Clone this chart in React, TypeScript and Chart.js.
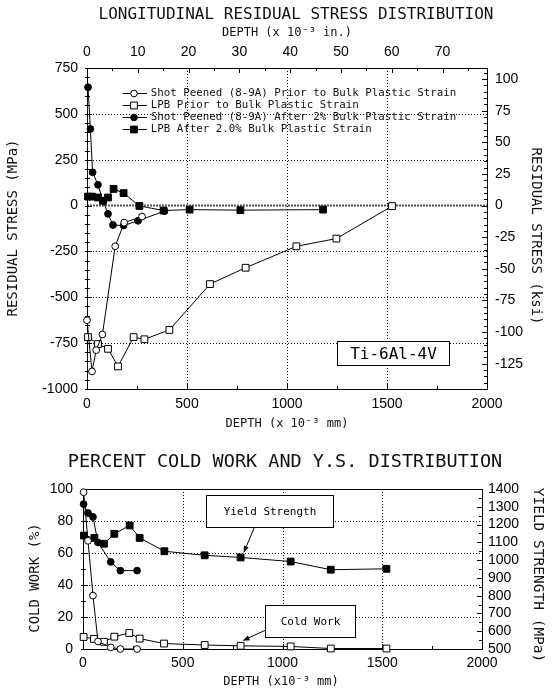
import React, { useEffect, useRef } from 'react';
import { Chart, registerables } from 'chart.js';

Chart.register(...registerables);

const MONO = '"DejaVu Sans Mono", "Liberation Mono", monospace';
const SANS = '"Liberation Sans", Arial, sans-serif';
const MPA_PER_KSI = 6.895;
const MM_PER_IN = 25.4;

// ---------------- Top chart: residual stress ----------------
const TOP_TITLE = 'LONGITUDINAL RESIDUAL STRESS DISTRIBUTION';
const TOP_X2_TITLE = 'DEPTH (x 10⁻³ in.)';
const TOP_X_TITLE = 'DEPTH (x 10⁻³ mm)';
const TOP_Y_TITLE = 'RESIDUAL STRESS (MPa)';
const TOP_Y2_TITLE = 'RESIDUAL STRESS (ksi)';
const MATERIAL_LABEL = 'Ti-6Al-4V';

const stressSeriesNames = [
  'Shot Peened (8-9A) Prior to Bulk Plastic Strain',
  'LPB Prior to Bulk Plastic Strain',
  'Shot Peened (8-9A) After 2% Bulk Plastic Strain',
  'LPB After 2.0% Bulk Plastic Strain',
];

const spPriorDepth = [0, 25, 46, 77, 141, 186, 275];
const spPriorStress = [-625, -904, -788, -703, -222, -93, -60];
const lpbPriorDepth = [5, 55, 105, 155, 233, 287, 412, 615, 793, 1047, 1247, 1525];
const lpbPriorStress = [-717, -755, -781, -877, -717, -729, -678, -428, -339, -222, -180, -3];
const spAfterDepth = [5, 17, 28, 55, 80, 105, 130, 183, 255, 387];
const spAfterStress = [645, 418, 181, 113, 26, -45, -106, -109, -83, -30];
const lpbAfterDepth = [5, 25, 55, 80, 105, 133, 183, 262, 383, 513, 767, 1180];
const lpbAfterStress = [49, 49, 44, 26, 44, 91, 68, -2, -27, -22, -25, -22];

const mmTicks = [0, 500, 1000, 1500, 2000];
const inTicks = [0, 10, 20, 30, 40, 50, 60, 70];
const mpaTicks = [-1000, -750, -500, -250, 0, 250, 500, 750];
const ksiTicks = [-125, -100, -75, -50, -25, 0, 25, 50, 75, 100];

// ---------------- Bottom chart: cold work & yield strength ----------------
const BOT_TITLE = 'PERCENT COLD WORK AND Y.S. DISTRIBUTION';
const BOT_X_TITLE = 'DEPTH (x10⁻³ mm)';
const BOT_Y_TITLE = 'COLD WORK (%)';
const BOT_Y2_TITLE = 'YIELD STRENGTH (MPa)';
const YS_LABEL = 'Yield Strength';
const CW_LABEL = 'Cold Work';

const spCwDepth = [3, 25, 50, 75, 139, 187, 271];
const spCw = [98, 67.6, 33.4, 4.7, 1, 0, 0];
const lpbCwDepth = [3, 55, 105, 157, 232, 284, 406, 610, 790, 1041, 1242, 1521];
const lpbCw = [7.5, 6.3, 4.5, 7.7, 10, 6.5, 3.4, 2.5, 2, 1.6, 0.3, 0.3];
const spYsDepth = [3, 25, 50, 75, 139, 187, 271];
const spYs = [1315, 1265, 1243, 1099, 990, 941, 941];
const lpbYsDepth = [5, 57, 105, 157, 234, 284, 408, 610, 790, 1041, 1242, 1521];
const lpbYs = [1138, 1125, 1092, 1148, 1195, 1125, 1050, 1027, 1015, 992, 946, 951];

const cwTicks = [0, 20, 40, 60, 80, 100];
const ysTicks = [500, 600, 700, 800, 900, 1000, 1100, 1200, 1300, 1400];

function range(a: number, b: number, step: number) {
  const out: number[] = [];
  for (let v = a; v <= b + 1e-9; v += step) out.push(Math.round(v * 1000) / 1000);
  return out;
}

const pts = (xs: number[], ys: number[]) => xs.map((x, i) => ({ x, y: ys[i] }));

function ds(label: string, data: any[], style: string, filled: boolean, yAxisID = 'y') {
  return {
    label,
    data,
    yAxisID,
    xAxisID: 'x',
    showLine: true,
    borderColor: '#000',
    borderWidth: 1,
    backgroundColor: '#000',
    pointStyle: style,
    pointRadius: style === 'rect' ? 4.8 : 3.4,
    pointHoverRadius: style === 'rect' ? 4.8 : 3.4,
    pointBackgroundColor: filled ? '#000' : '#fff',
    pointBorderColor: '#000',
    pointBorderWidth: 1,
    tension: 0,
    fill: false,
    clip: false,
  };
}

function fixedTicks(values: number[]) {
  return (s: any) => {
    s.ticks = values.map((v) => ({ value: v }));
  };
}

function axis(position: string, min: number, max: number, tickVals: number[], size: number, padding: number) {
  const horizontal = position === 'top' || position === 'bottom';
  return {
    type: 'linear',
    position,
    min,
    max,
    afterBuildTicks: fixedTicks(tickVals),
    afterFit: (s: any) => {
      if (horizontal) s.height = size;
      else s.width = size;
    },
    grid: { display: false, drawTicks: false },
    border: { display: false },
    ticks: {
      color: '#000',
      font: { family: SANS, size: 14 },
      padding,
      autoSkip: false,
      maxRotation: 0,
      callback: (v: any) => String(v),
    },
  };
}

type Side = 'left' | 'right' | 'top' | 'bottom';
interface TickSpec { id: string; side: Side; major: number[]; minor: number[] }
interface TextSpec { text: string; x: number; y: number; size: number; rot?: number }

function drawTexts(ctx: CanvasRenderingContext2D, texts: TextSpec[]) {
  texts.forEach((t) => {
    ctx.save();
    ctx.fillStyle = '#111';
    ctx.font = `${t.size}px ${MONO}`;
    ctx.textAlign = 'center';
    ctx.textBaseline = 'middle';
    ctx.translate(t.x, t.y);
    if (t.rot) ctx.rotate((t.rot * Math.PI) / 180);
    ctx.fillText(t.text, 0, 0);
    ctx.restore();
  });
}

function decorPlugin(spec: {
  name: string;
  gridXId: string;
  gridYId: string;
  gridX: number[];
  gridY: number[];
  zeroY?: boolean;
  ticks: TickSpec[];
  texts: TextSpec[];
  extras?: (chart: any) => void;
}) {
  return {
    id: 'decor_' + spec.name,
    beforeDatasetsDraw(chart: any) {
      const { ctx, chartArea: a } = chart;
      const sx = chart.scales[spec.gridXId];
      const sy = chart.scales[spec.gridYId];
      ctx.save();
      ctx.strokeStyle = '#000';
      ctx.lineWidth = 1;
      ctx.setLineDash([1, 2]);
      spec.gridX.forEach((v) => {
        const p = Math.round(sx.getPixelForValue(v)) + 0.5;
        ctx.beginPath();
        ctx.moveTo(p, a.top);
        ctx.lineTo(p, a.bottom);
        ctx.stroke();
      });
      spec.gridY.forEach((v) => {
        const p = Math.round(sy.getPixelForValue(v)) + 0.5;
        ctx.beginPath();
        ctx.moveTo(a.left, p);
        ctx.lineTo(a.right, p);
        ctx.stroke();
      });
      if (spec.zeroY) {
        const p = sy.getPixelForValue(0);
        ctx.strokeStyle = '#555';
        ctx.lineWidth = 2;
        ctx.setLineDash([2, 1]);
        ctx.beginPath();
        ctx.moveTo(a.left, p);
        ctx.lineTo(a.right, p);
        ctx.stroke();
      }
      ctx.setLineDash([]);
      ctx.strokeStyle = '#000';
      ctx.lineWidth = 1;
      spec.ticks.forEach((t) => {
        const s = chart.scales[t.id];
        const draw = (v: number, len: number) => {
          const p = Math.round(s.getPixelForValue(v)) + 0.5;
          const out = t.side === 'left' ? 2 : 0;
          ctx.beginPath();
          if (t.side === 'left') { ctx.moveTo(a.left - out, p); ctx.lineTo(a.left + len, p); }
          if (t.side === 'right') { ctx.moveTo(a.right + out, p); ctx.lineTo(a.right - len, p); }
          if (t.side === 'bottom') { ctx.moveTo(p, a.bottom + out); ctx.lineTo(p, a.bottom - len); }
          if (t.side === 'top') { ctx.moveTo(p, a.top - out); ctx.lineTo(p, a.top + len); }
          ctx.stroke();
        };
        t.minor.forEach((v) => draw(v, 3));
        t.major.forEach((v) => draw(v, 5));
      });
      ctx.strokeRect(Math.round(a.left) + 0.5, Math.round(a.top) + 0.5, Math.round(a.right - a.left), Math.round(a.bottom - a.top));
      ctx.restore();
    },
    afterDatasetsDraw(chart: any) {
      const { ctx } = chart;
      if (spec.extras) spec.extras(chart);
      drawTexts(ctx, spec.texts);
    },
  };
}

function drawMarker(ctx: CanvasRenderingContext2D, x: number, y: number, style: string, filled: boolean) {
  ctx.save();
  ctx.fillStyle = filled ? '#000' : '#fff';
  ctx.strokeStyle = '#000';
  ctx.lineWidth = 1;
  ctx.beginPath();
  if (style === 'rect') ctx.rect(x - 3.4, y - 3.4, 6.8, 6.8);
  else ctx.arc(x, y, 3.3, 0, Math.PI * 2);
  ctx.fill();
  ctx.stroke();
  ctx.restore();
}

function drawBox(ctx: CanvasRenderingContext2D, x1: number, y1: number, x2: number, y2: number, text: string, size: number) {
  ctx.save();
  const l = Math.round(Math.min(x1, x2)) + 0.5;
  const t = Math.round(Math.min(y1, y2)) + 0.5;
  const w = Math.round(Math.abs(x2 - x1));
  const h = Math.round(Math.abs(y2 - y1));
  ctx.fillStyle = '#fff';
  ctx.fillRect(l, t, w, h);
  ctx.strokeStyle = '#000';
  ctx.lineWidth = 1;
  ctx.strokeRect(l, t, w, h);
  ctx.fillStyle = '#000';
  ctx.font = `${size}px ${MONO}`;
  ctx.textAlign = 'center';
  ctx.textBaseline = 'middle';
  ctx.fillText(text, l + w / 2, t + h / 2 + 1);
  ctx.restore();
}

function drawArrow(ctx: CanvasRenderingContext2D, x1: number, y1: number, x2: number, y2: number) {
  ctx.save();
  ctx.strokeStyle = '#000';
  ctx.fillStyle = '#000';
  ctx.lineWidth = 1;
  const ang = Math.atan2(y2 - y1, x2 - x1);
  const hl = 7;
  const hw = 2.6;
  const bx = x2 - hl * Math.cos(ang);
  const by = y2 - hl * Math.sin(ang);
  ctx.beginPath();
  ctx.moveTo(x1, y1);
  ctx.lineTo(bx, by);
  ctx.stroke();
  ctx.beginPath();
  ctx.moveTo(x2, y2);
  ctx.lineTo(bx + hw * Math.sin(ang), by - hw * Math.cos(ang));
  ctx.lineTo(bx - hw * Math.sin(ang), by + hw * Math.cos(ang));
  ctx.closePath();
  ctx.fill();
  ctx.restore();
}

// annotation placement (data coordinates)
const materialBox = { x1: 1250, x2: 1808, y1: -738, y2: -871 };
const ysBox = { x1: 615, x2: 1251, y1: 96.3, y2: 76.3 };
const ysArrow = { x1: 860, y1: 76.3, x2: 805, y2: 60 };
const cwBox = { x1: 914, x2: 1367, y1: 27.6, y2: 7.7 };
const cwArrow = { x1: 919, y1: 12, x2: 800, y2: 5.2 };

function topConfig(): any {
  const styles = [
    ['circle', false],
    ['rect', false],
    ['circle', true],
    ['rect', true],
  ] as const;
  return {
    type: 'scatter',
    data: {
      datasets: [
        ds(stressSeriesNames[0], pts(spPriorDepth, spPriorStress), 'circle', false),
        ds(stressSeriesNames[1], pts(lpbPriorDepth, lpbPriorStress), 'rect', false),
        ds(stressSeriesNames[2], pts(spAfterDepth, spAfterStress), 'circle', true),
        ds(stressSeriesNames[3], pts(lpbAfterDepth, lpbAfterStress), 'rect', true),
      ],
    },
    options: {
      responsive: false,
      maintainAspectRatio: false,
      animation: false,
      events: [],
      devicePixelRatio: 1,
      layout: { padding: 0 },
      plugins: { legend: { display: false }, title: { display: false }, tooltip: { enabled: false } },
      scales: {
        x: axis('bottom', 0, 2000, mmTicks, 51, 7),
        x2: axis('top', 0, 2000 / MM_PER_IN, inTicks, 68, 7),
        y: axis('left', -1000, 750, mpaTicks, 87, 9),
        y2: axis('right', -1000 / MPA_PER_KSI, 750 / MPA_PER_KSI, ksiTicks, 67, 8),
      },
    },
    plugins: [
      decorPlugin({
        name: 'top',
        gridXId: 'x',
        gridYId: 'y',
        gridX: [500, 1000, 1500],
        gridY: [-750, -500, -250, 250, 500],
        zeroY: true,
        ticks: [
          { id: 'x', side: 'bottom', major: mmTicks, minor: range(0, 2000, 250) },
          { id: 'x2', side: 'top', major: inTicks, minor: range(0, 75, 5) },
          { id: 'y', side: 'left', major: mpaTicks, minor: range(-1000, 750, 50) },
          { id: 'y2', side: 'right', major: ksiTicks, minor: range(-145, 105, 5) },
        ],
        texts: [
          { text: TOP_TITLE, x: 296, y: 15, size: 16 },
          { text: TOP_X2_TITLE, x: 287, y: 33, size: 12 },
          { text: TOP_X_TITLE, x: 287, y: 424, size: 12 },
          { text: TOP_Y_TITLE, x: 13, y: 228, size: 14, rot: -90 },
          { text: TOP_Y2_TITLE, x: 536, y: 236, size: 14, rot: 90 },
        ],
        extras: (chart: any) => {
          const { ctx, chartArea: a, scales } = chart;
          styles.forEach(([st, filled], i) => {
            const y = Math.round(a.top + 25.3 + i * 11.8) + 0.5;
            ctx.save();
            ctx.strokeStyle = '#000';
            ctx.lineWidth = 1;
            ctx.beginPath();
            ctx.moveTo(a.left + 35.7, y);
            ctx.lineTo(a.left + 60, y);
            ctx.stroke();
            ctx.restore();
            drawMarker(ctx, a.left + 47, y, st, filled);
            ctx.save();
            ctx.fillStyle = '#111';
            ctx.font = `10.8px ${MONO}`;
            ctx.textAlign = 'left';
            ctx.textBaseline = 'middle';
            ctx.fillText(stressSeriesNames[i], a.left + 63.7, y);
            ctx.restore();
          });
          const sx = scales.x, sy = scales.y;
          drawBox(ctx, sx.getPixelForValue(materialBox.x1), sy.getPixelForValue(materialBox.y1),
            sx.getPixelForValue(materialBox.x2), sy.getPixelForValue(materialBox.y2), MATERIAL_LABEL, 16);
        },
      }),
    ],
  };
}

function botConfig(): any {
  return {
    type: 'scatter',
    data: {
      datasets: [
        ds('Cold Work - Shot Peened', pts(spCwDepth, spCw), 'circle', false, 'y'),
        ds('Cold Work - LPB', pts(lpbCwDepth, lpbCw), 'rect', false, 'y'),
        ds('Yield Strength - Shot Peened', pts(spYsDepth, spYs), 'circle', true, 'y2'),
        ds('Yield Strength - LPB', pts(lpbYsDepth, lpbYs), 'rect', true, 'y2'),
      ],
    },
    options: {
      responsive: false,
      maintainAspectRatio: false,
      animation: false,
      events: [],
      devicePixelRatio: 1,
      layout: { padding: { top: 49, left: 0, right: 0, bottom: 0 } },
      plugins: { legend: { display: false }, title: { display: false }, tooltip: { enabled: false } },
      scales: {
        x: axis('bottom', 0, 2000, mmTicks, 45, 6),
        y: axis('left', 0, 100, cwTicks, 83, 10),
        y2: axis('right', 500, 1400, ysTicks, 72, 6),
      },
    },
    plugins: [
      decorPlugin({
        name: 'bot',
        gridXId: 'x',
        gridYId: 'y',
        gridX: [500, 1000, 1500],
        gridY: [20, 40, 60, 80],
        ticks: [
          { id: 'x', side: 'bottom', major: mmTicks, minor: range(0, 2000, 250) },
          { id: 'y', side: 'left', major: cwTicks, minor: range(0, 100, 10) },
          { id: 'y2', side: 'right', major: ysTicks, minor: range(500, 1400, 50) },
        ],
        texts: [
          { text: BOT_TITLE, x: 285, y: 22, size: 18.5 },
          { text: BOT_X_TITLE, x: 281, y: 242, size: 12 },
          { text: BOT_Y_TITLE, x: 35.5, y: 138, size: 14, rot: -90 },
          { text: BOT_Y2_TITLE, x: 537.7, y: 135, size: 14.5, rot: 90 },
        ],
        extras: (chart: any) => {
          const { ctx, scales } = chart;
          const sx = scales.x, sy = scales.y;
          const X = (v: number) => sx.getPixelForValue(v);
          const Y = (v: number) => sy.getPixelForValue(v);
          drawArrow(ctx, X(ysArrow.x1), Y(ysArrow.y1), X(ysArrow.x2), Y(ysArrow.y2));
          drawBox(ctx, X(ysBox.x1), Y(ysBox.y1), X(ysBox.x2), Y(ysBox.y2), YS_LABEL, 11);
          drawArrow(ctx, X(cwArrow.x1), Y(cwArrow.y1), X(cwArrow.x2), Y(cwArrow.y2));
          drawBox(ctx, X(cwBox.x1), Y(cwBox.y1), X(cwBox.x2), Y(cwBox.y2), CW_LABEL, 11);
        },
      }),
    ],
  };
}

export default function App() {
  const topRef = useRef<HTMLCanvasElement>(null);
  const botRef = useRef<HTMLCanvasElement>(null);
  useEffect(() => {
    const c1 = new Chart(topRef.current as HTMLCanvasElement, topConfig());
    const c2 = new Chart(botRef.current as HTMLCanvasElement, botConfig());
    return () => {
      c1.destroy();
      c2.destroy();
    };
  }, []);
  return (
    <div style={{ position: 'absolute', left: 0, top: 0, width: 554, height: 694, background: '#fff' }}>
      <canvas ref={topRef} width={554} height={440} style={{ position: 'absolute', left: 0, top: 0, width: 554, height: 440 }} />
      <canvas ref={botRef} width={554} height={254} style={{ position: 'absolute', left: 0, top: 440, width: 554, height: 254 }} />
    </div>
  );
}
